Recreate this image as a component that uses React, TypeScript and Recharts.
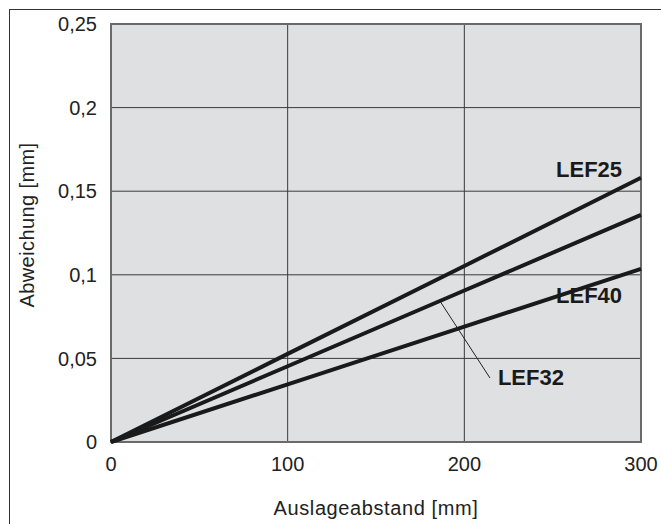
import React from "react";
import {
  LineChart,
  Line,
  XAxis,
  YAxis,
  CartesianGrid,
  ReferenceLine,
  ReferenceDot,
  ReferenceArea,
  Label,
} from "recharts";

const distances = [0, 100, 200, 300];
const lef25 = [0, 0.0527, 0.1053, 0.158];
const lef32 = [0, 0.0453, 0.0906, 0.1358];
const lef40 = [0, 0.0345, 0.069, 0.1035];
const xTicks = [0, 100, 200, 300];
const yTicks = [0, 0.05, 0.1, 0.15, 0.2, 0.25];
const seriesNames = ["LEF25", "LEF32", "LEF40"];
const labelPositions = [
  { x: 270.6, y: 0.1627 },
  { x: 237.7, y: 0.0383 },
  { x: 270.6, y: 0.0879 },
];
const leader = [
  { x: 186.2, y: 0.0843 },
  { x: 214.5, y: 0.0383 },
];

const data = distances.map((d, i) => ({
  d,
  LEF25: lef25[i],
  LEF32: lef32[i],
  LEF40: lef40[i],
}));

const FONT = "'Liberation Sans', Arial, Helvetica, sans-serif";

const fmtY = (v: number) => (v === 0 ? "0" : String(v).replace(".", ","));

export default function App() {
  return (
    <div
      style={{
        position: "absolute",
        left: 0,
        top: 0,
        width: 661,
        height: 524,
        background: "#fff",
        fontFamily: FONT,
      }}
    >
      <div
        style={{
          position: "absolute",
          left: 9,
          top: 9,
          width: 660,
          height: 520,
          borderLeft: "1.5px solid #333",
          borderTop: "1.5px solid #333",
        }}
      />
      <div style={{ position: "absolute", left: 0, top: 0 }}>
        <LineChart
          width={661}
          height={524}
          data={data}
          margin={{ top: 24, right: 20, left: 0, bottom: 0 }}
        >
          <CartesianGrid
            stroke="#3a3a3a"
            strokeWidth={1}
            horizontalValues={[0.05, 0.1, 0.15, 0.2]}
            verticalValues={[100, 200]}
            fill="#dfe0e2"
            fillOpacity={1}
          />
          <ReferenceArea
            x1={0}
            x2={300}
            y1={0}
            y2={0.25}
            fill="none"
            fillOpacity={0}
            stroke="#6a6a6a"
            strokeWidth={2}
            ifOverflow="visible"
          />
          <XAxis
            dataKey="d"
            type="number"
            domain={[0, 300]}
            ticks={xTicks}
            height={82}
            axisLine={false}
            tickLine={false}
            tickMargin={9}
            tick={{ fill: "#222", fontSize: 20, fontFamily: FONT }}
            interval={0}
          >
            <Label
              content={(p: any) => {
                const vb = p.viewBox || {};
                return (
                  <text
                    x={vb.x + vb.width / 2}
                    y={508}
                    textAnchor="middle"
                    dominantBaseline="central"
                    fill="#222"
                    fontSize={20}
                    letterSpacing={0.6}
                    fontFamily={FONT}
                  >
                    Auslageabstand [mm]
                  </text>
                );
              }}
            />
          </XAxis>
          <YAxis
            type="number"
            domain={[0, 0.25]}
            ticks={yTicks}
            width={111}
            axisLine={false}
            tickLine={false}
            tickMargin={8}
            tickFormatter={fmtY}
            tick={{ fill: "#222", fontSize: 20, fontFamily: FONT }}
            interval={0}
          >
            <Label
              content={() => {
                const cx = 27;
                const cy = 225;
                return (
                  <text
                    x={cx}
                    y={cy}
                    transform={`rotate(-90, ${cx}, ${cy})`}
                    textAnchor="middle"
                    dominantBaseline="central"
                    fill="#222"
                    fontSize={20}
                    letterSpacing={0.4}
                    fontFamily={FONT}
                  >
                    Abweichung [mm]
                  </text>
                );
              }}
            />
          </YAxis>
          <ReferenceLine
            segment={leader}
            stroke="#222"
            strokeWidth={1}
            ifOverflow="visible"
          />
          {seriesNames.map((name) => (
            <Line
              key={name}
              dataKey={name}
              stroke="#1a1a1a"
              strokeWidth={4}
              dot={false}
              activeDot={false}
              isAnimationActive={false}
              type="linear"
            />
          ))}
          {seriesNames.map((name, i) => (
            <ReferenceDot
              key={"l" + name}
              x={labelPositions[i].x}
              y={labelPositions[i].y}
              r={0}
              fill="none"
              stroke="none"
              ifOverflow="visible"
              label={(p: any) => {
                const vb = p.viewBox || {};
                const cx = vb.x + (vb.width || 0) / 2;
                const cy = vb.y + (vb.height || 0) / 2;
                return (
                  <text
                    x={cx}
                    y={cy}
                    textAnchor="middle"
                    dominantBaseline="central"
                    fill="#1a1a1a"
                    fontSize={22}
                    fontWeight="bold"
                    fontFamily={FONT}
                  >
                    {name}
                  </text>
                );
              }}
            />
          ))}
        </LineChart>
      </div>
    </div>
  );
}
